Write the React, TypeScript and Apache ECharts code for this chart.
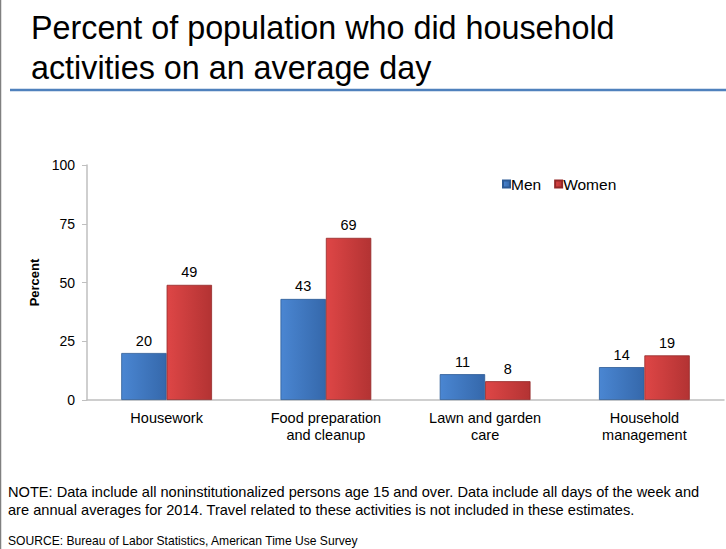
import React, { useEffect, useRef } from "react";
import * as echarts from "echarts";

const categories = ["Housework", "Food preparation\nand cleanup", "Lawn and garden\ncare", "Household\nmanagement"];
const menValues = [20, 43, 11, 14];
const womenValues = [49, 69, 8, 19];
const yTicks = [0, 25, 50, 75, 100];
const titleText = "Percent of population who did household\nactivities on an average day";
const noteText =
  "NOTE: Data include all noninstitutionalized persons age 15 and over. Data include all days of the week and\nare annual averages for 2014. Travel related to these activities is not included in these estimates.";
const sourceText = "SOURCE: Bureau of Labor Statistics, American Time Use Survey";

const FONT = "'Liberation Sans', Arial, Helvetica, sans-serif";

export default function App() {
  const ref = useRef<HTMLDivElement>(null);
  useEffect(() => {
    if (!ref.current) return;
    const chart = echarts.init(ref.current, null, { renderer: "svg" });
    const blue = new echarts.graphic.LinearGradient(0, 0, 1, 0, [
      { offset: 0, color: "#4a86d2" },
      { offset: 1, color: "#3568ab" },
    ]);
    const red = new echarts.graphic.LinearGradient(0, 0, 1, 0, [
      { offset: 0, color: "#de4646" },
      { offset: 1, color: "#b33333" },
    ]);
    const lbl = { show: true, position: "top", distance: 5, fontFamily: FONT, fontSize: 14.5, color: "#000" };
    chart.setOption({
      animation: false,
      backgroundColor: "#ffffff",
      textStyle: { fontFamily: FONT },
      title: {
        text: titleText,
        left: 26,
        top: 3,
        textStyle: { fontFamily: FONT, fontSize: 32.3, fontWeight: "normal", color: "#000", lineHeight: 40 },
      },
      legend: {
        data: ["Men", "Women"],
        left: 497,
        top: 171,
        itemWidth: 7,
        itemHeight: 7,
        itemGap: 13,
        icon: "rect",
        textStyle: { fontFamily: FONT, fontSize: 15.5, color: "#000", padding: [0, 0, 0, -4] },
      },
      grid: { left: 87, right: 2, top: 165, bottom: 149, containLabel: false },
      xAxis: {
        type: "category",
        data: categories,
        axisLine: { lineStyle: { color: "#bfbfbf", width: 1.5 } },
        axisTick: { show: false },
        axisLabel: { fontFamily: FONT, fontSize: 14.5, color: "#000", lineHeight: 17, margin: 9 },
      },
      yAxis: {
        type: "value",
        min: 0,
        max: 100,
        interval: 25,
        name: "Percent",
        nameLocation: "middle",
        nameGap: 42,
        nameTextStyle: { fontFamily: FONT, fontSize: 13, fontWeight: "bold", color: "#000" },
        axisLine: { show: true, lineStyle: { color: "#bfbfbf", width: 1.5 } },
        axisTick: { show: true, length: 5, lineStyle: { color: "#bfbfbf" } },
        splitLine: { show: false },
        axisLabel: {
          fontFamily: FONT,
          fontSize: 14,
          color: "#000",
          margin: 12,
          formatter: (v: number) => (yTicks.includes(v) ? String(v) : ""),
        },
      },
      series: [
        {
          name: "Men",
          type: "bar",
          data: menValues,
          barGap: "0%",
          barCategoryGap: "43%",
          itemStyle: { color: blue, borderColor: "#2c5a95", borderWidth: 0.8 },
          label: lbl,
        },
        {
          name: "Women",
          type: "bar",
          data: womenValues,
          itemStyle: { color: red, borderColor: "#932828", borderWidth: 0.8 },
          label: lbl,
        },
      ],
      graphic: [
        { type: "line", shape: { x1: 0.5, y1: 0, x2: 0.5, y2: 549 }, style: { stroke: "#808080", lineWidth: 1.5 } },
        { type: "line", shape: { x1: 10, y1: 90, x2: 726, y2: 90 }, style: { stroke: "#4f81bd", lineWidth: 2.5 } },
        {
          type: "text",
          left: 8,
          top: 483,
          style: { text: noteText, fontFamily: FONT, fontSize: 14.6, lineHeight: 18, fill: "#000" },
        },
        {
          type: "text",
          left: 8,
          top: 535,
          style: { text: sourceText, fontFamily: FONT, fontSize: 12.1, fill: "#000" },
        },
      ],
    });
    return () => chart.dispose();
  }, []);
  return <div ref={ref} style={{ position: "absolute", left: 0, top: 0, width: 726, height: 549 }} />;
}
